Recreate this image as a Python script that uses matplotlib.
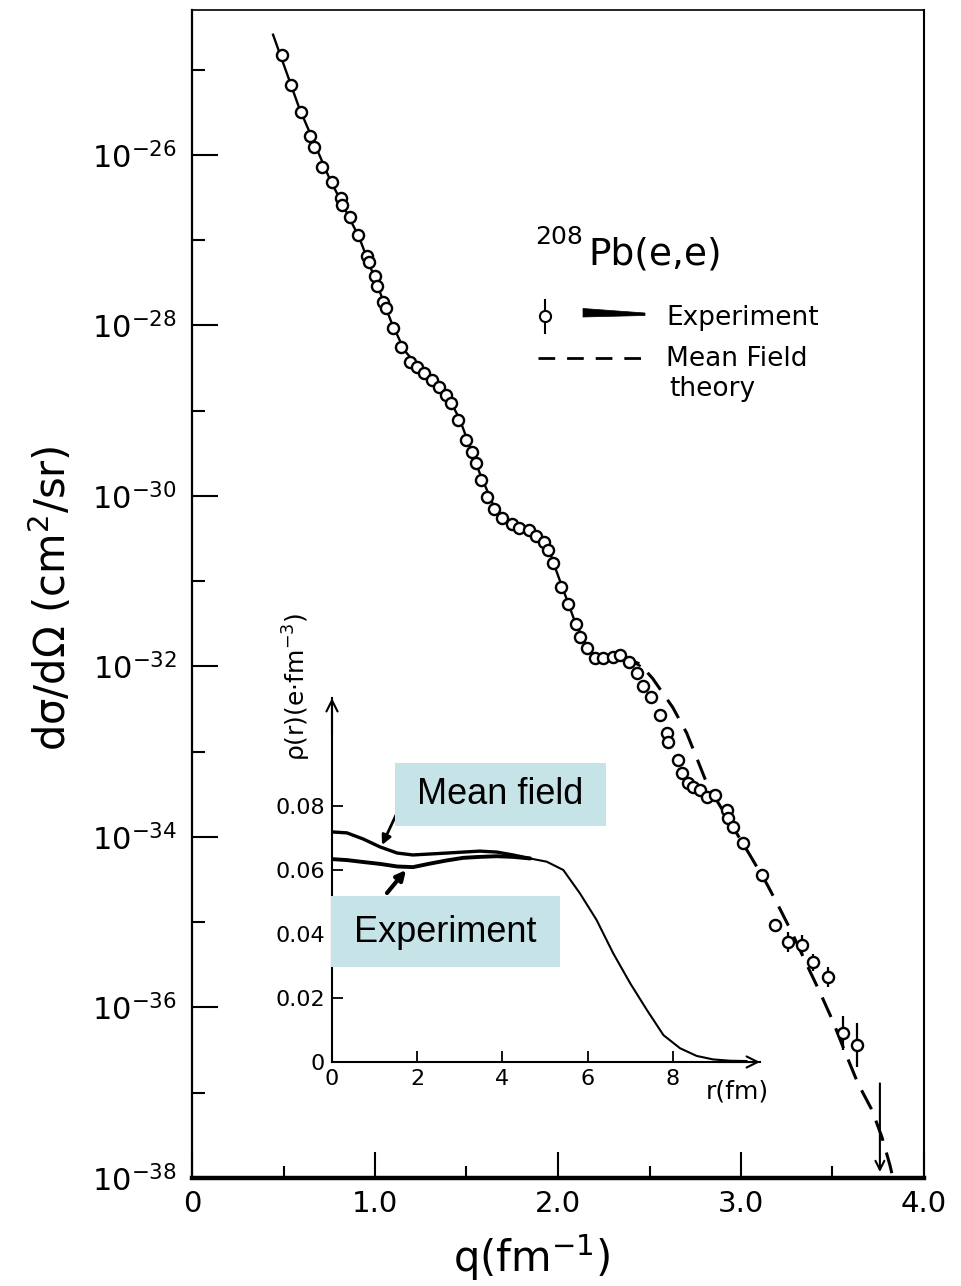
import numpy as np
import matplotlib
matplotlib.use("Agg")
import matplotlib.pyplot as plt
from matplotlib.patches import Rectangle, Polygon
from matplotlib.lines import Line2D

plt.rcParams['font.family'] = ['DejaVu Sans']
plt.rcParams['mathtext.fontset'] = 'dejavusans'

# ---------------- data: elastic cross section (log10 of dsigma/dOmega) ----------------
q_exp = [0.492, 0.542, 0.597, 0.646, 0.668, 0.711, 0.766, 0.815, 0.821, 0.865,
         0.908, 0.958, 0.969, 1.001, 1.012, 1.045, 1.062, 1.100, 1.144, 1.193,
         1.231, 1.270, 1.313, 1.352, 1.390, 1.417, 1.456, 1.499, 1.532, 1.554,
         1.581, 1.614, 1.653, 1.696, 1.746, 1.789, 1.839, 1.882, 1.921, 1.948,
         1.970, 2.019, 2.057, 2.101, 2.118, 2.156, 2.200, 2.244, 2.298, 2.337,
         2.386, 2.430, 2.462, 2.506, 2.555, 2.594, 2.599, 2.654, 2.676, 2.709,
         2.736, 2.774, 2.813, 2.856, 2.922, 2.927, 2.955, 3.010, 3.114, 3.185,
         3.256, 3.332, 3.393, 3.475, 3.557, 3.633]
log_exp = [-24.83, -25.18, -25.50, -25.78, -25.91, -26.14, -26.32, -26.50, -26.59, -26.73,
           -26.94, -27.19, -27.26, -27.42, -27.54, -27.72, -27.80, -28.03, -28.25, -28.43,
           -28.49, -28.56, -28.64, -28.72, -28.82, -28.91, -29.11, -29.34, -29.48, -29.61,
           -29.81, -30.01, -30.15, -30.26, -30.33, -30.38, -30.40, -30.47, -30.54, -30.63,
           -30.79, -31.07, -31.27, -31.50, -31.65, -31.78, -31.90, -31.90, -31.89, -31.87,
           -31.95, -32.08, -32.23, -32.36, -32.57, -32.78, -32.89, -33.10, -33.25, -33.37,
           -33.41, -33.45, -33.53, -33.51, -33.68, -33.78, -33.88, -34.07, -34.45, -35.03,
           -35.23, -35.27, -35.47, -35.64, -36.30, -36.44]

# points carrying error bars (half-width in decades)
q_eb = [3.114, 3.256, 3.332, 3.393, 3.475, 3.557, 3.633]
log_eb = [-34.45, -35.23, -35.27, -35.47, -35.64, -36.30, -36.44]
dec_eb = [0.08, 0.12, 0.12, 0.10, 0.12, 0.20, 0.26]

# upper limit
q_ul = 3.759
log_ul_top = -36.89
log_ul_bot = -37.93

# experimental fit (solid)
q_fit = [0.443, 0.586, 0.750, 0.914, 1.089, 1.160, 1.242, 1.379, 1.461, 1.570,
         1.653, 1.746, 1.844, 1.937, 1.986, 2.090, 2.172, 2.254, 2.337, 2.446]
log_fit = [-24.59, -25.45, -26.27, -26.97, -27.96, -28.29, -28.50, -28.76, -29.09, -29.72,
           -30.14, -30.31, -30.40, -30.54, -30.85, -31.46, -31.83, -31.91, -31.87, -31.99]

# mean field theory (dashed)
q_th = [2.337, 2.446, 2.517, 2.627, 2.703, 2.763, 2.813, 2.884, 2.966, 3.048,
        3.141, 3.212, 3.278, 3.360, 3.431, 3.502, 3.568, 3.639, 3.715, 3.770,
        3.814, 3.830]
log_th = [-31.87, -31.97, -32.14, -32.48, -32.78, -33.10, -33.37, -33.63, -33.92, -34.21,
          -34.55, -34.84, -35.12, -35.50, -35.82, -36.16, -36.52, -36.89, -37.20, -37.52,
          -37.85, -38.00]

# axis ticks
x_major = [0, 1, 2, 3, 4]
x_major_labels = ['0', '1.0', '2.0', '3.0', '4.0']
x_minor = [0.5, 1.5, 2.5, 3.5]
y_major_exp = [-38, -36, -34, -32, -30, -28, -26]
y_minor_exp = [-37, -35, -33, -31, -29, -27, -25]

# ---------------- data: inset charge density ----------------
r_core = [0.0, 0.35, 0.73, 1.13, 1.53, 1.90, 2.30, 2.70, 3.08, 3.47, 3.87, 4.25, 4.65]
rho_mf = [0.0719, 0.0716, 0.0697, 0.0672, 0.0653, 0.0647, 0.0650, 0.0653, 0.0656, 0.0659,
          0.0656, 0.0647, 0.0636]
rho_ex = [0.0634, 0.0631, 0.0625, 0.0619, 0.0611, 0.0609, 0.0620, 0.0630, 0.0638, 0.0641,
          0.0643, 0.0641, 0.0636]
r_tail = [4.65, 5.04, 5.43, 5.82, 6.21, 6.60, 7.00, 7.39, 7.78, 8.17, 8.56, 8.95, 9.34, 9.73]
rho_tail = [0.0636, 0.0626, 0.0600, 0.0527, 0.0444, 0.0340, 0.0246, 0.0163, 0.0084, 0.0043,
            0.0019, 0.0008, 0.0004, 0.0003]
r_ticks = [0, 2, 4, 6, 8]
rho_ticks = [0, 0.02, 0.04, 0.06, 0.08]
rho_tick_labels = ['0', '0.02', '0.04', '0.06', '0.08']

# ---------------- figure ----------------
W, H = 962, 1286
fig = plt.figure(figsize=(W / 100, H / 100), dpi=100)


def ff(px, py):
    return (px / W, 1 - py / H)


ax = fig.add_axes([192 / W, 1 - 1178 / H, (924 - 192) / W, (1178 - 10) / H])
ax.set_yscale('log')
ax.set_xlim(0, 4)
ax.set_ylim(1e-38, 10 ** (-24.3))

ax.set_xticks(x_major, labels=x_major_labels)
ax.set_xticks(x_minor, minor=True)
ax.set_yticks(10.0 ** np.array(y_major_exp, dtype=float),
              labels=[f"$10^{{{e}}}$" for e in y_major_exp])
ax.set_yticks(10.0 ** np.array(y_minor_exp, dtype=float), minor=True)
ax.yaxis.set_minor_formatter(matplotlib.ticker.NullFormatter())

ax.tick_params(axis='both', which='both', direction='in', width=1.5, color='k',
               top=False, right=False)
ax.tick_params(axis='y', which='major', length=19, labelsize=22, pad=11)
ax.tick_params(axis='y', which='minor', length=9)
ax.tick_params(axis='x', which='major', length=19, labelsize=21, pad=9)
ax.tick_params(axis='x', which='minor', length=9)

ax.spines['left'].set_linewidth(1.6)
ax.spines['bottom'].set_linewidth(3.2)
ax.spines['right'].set_linewidth(1.5)
ax.spines['top'].set_linewidth(1.2)

sig = lambda v: 10.0 ** np.asarray(v, dtype=float)

ax.plot(q_fit, sig(log_fit), color='k', lw=1.7, zorder=2)
ax.plot(q_th, sig(log_th), color='k', lw=2.2, dashes=(7, 4), zorder=2)

yc = sig(log_eb)
lo = yc - yc * 10.0 ** (-np.array(dec_eb))
hi = yc * 10.0 ** np.array(dec_eb) - yc
ax.errorbar(q_eb, yc, yerr=[lo, hi], fmt='none', ecolor='k', elinewidth=1.6,
            capsize=0, zorder=3)
ax.plot(q_exp, sig(log_exp), ls='none', marker='o', ms=8, mfc='white', mec='k',
        mew=1.7, zorder=4)

ax.annotate('', xy=(q_ul, 10 ** log_ul_bot), xytext=(q_ul, 10 ** log_ul_top),
            arrowprops=dict(arrowstyle='->', lw=1.5, color='k', shrinkA=0, shrinkB=0,
                            mutation_scale=16))

# ---------------- legend (hand drawn) ----------------
fig.text(*ff(535, 244), '208', fontsize=18, ha='left', va='baseline')
fig.text(*ff(588, 265), 'Pb(e,e)', fontsize=27, ha='left', va='baseline')
fig.add_artist(Line2D([545 / W, 545 / W], [1 - 300 / H, 1 - 333 / H], color='k', lw=1.5,
                      transform=fig.transFigure))
fig.add_artist(Line2D([545 / W], [1 - 316 / H], marker='o', ms=8, mfc='white', mec='k',
                      mew=1.5, transform=fig.transFigure))
fig.add_artist(Polygon([ff(583, 308.5), ff(645, 313), ff(645, 315.5), ff(583, 317)],
                       closed=True, fc='k', ec='k', lw=0.5, transform=fig.transFigure))
fig.add_artist(Line2D([538 / W, 646 / W], [1 - 358 / H, 1 - 358 / H], color='k', lw=2,
                      dashes=(6, 4.3), transform=fig.transFigure))
fig.text(*ff(666, 325), 'Experiment', fontsize=19, ha='left', va='baseline')
fig.text(*ff(666, 366), 'Mean Field', fontsize=19, ha='left', va='baseline')
fig.text(*ff(669, 396), 'theory', fontsize=19, ha='left', va='baseline')

# axis labels
fig.text(*ff(51, 598), 'dσ/dΩ (cm$^2$/sr)', rotation=90, fontsize=30,
         ha='center', va='center')
fig.text(*ff(532, 1258), 'q(fm$^{-1}$)', fontsize=30, ha='center', va='center')

# ---------------- inset ----------------
axi = fig.add_axes([332 / W, 1 - 1062 / H, (760 - 332) / W, (1062 - 698) / H],
                   facecolor='none')
axi.set_xlim(0, 428 / 42.6)
axi.set_ylim(0, 364 / 3200)
for s in ('top', 'right'):
    axi.spines[s].set_visible(False)
axi.spines['left'].set_linewidth(1.5)
axi.spines['bottom'].set_linewidth(1.5)
axi.set_xticks(r_ticks, labels=[str(t) for t in r_ticks])
axi.set_yticks(rho_ticks, labels=rho_tick_labels)
axi.tick_params(direction='in', length=8, width=1.3, labelsize=16, pad=5)
axi.annotate('', xy=(1, 0), xytext=(0.9, 0), xycoords='axes fraction',
             arrowprops=dict(arrowstyle='->', lw=1.5, color='k', shrinkA=0, shrinkB=0,
                             mutation_scale=20))
axi.annotate('', xy=(0, 1), xytext=(0, 0.9), xycoords='axes fraction',
             arrowprops=dict(arrowstyle='->', lw=1.5, color='k', shrinkA=0, shrinkB=0,
                             mutation_scale=20))

axi.plot(r_core, rho_mf, color='k', lw=2.4, solid_capstyle='round')
axi.plot(r_core, rho_ex, color='k', lw=2.8, solid_capstyle='round')
axi.plot(r_tail, rho_tail, color='k', lw=1.5, solid_joinstyle='round')

fig.text(*ff(297, 687), 'ρ(r)(e·fm$^{-3}$)', rotation=90, fontsize=18,
         ha='center', va='center')
fig.text(*ff(737, 1092), 'r(fm)', fontsize=18, ha='center', va='center')

# annotation boxes
box_col = '#c6e4e8'
fig.add_artist(Rectangle(ff(395, 826), 211 / W, 63 / H, transform=fig.transFigure,
                         fc=box_col, ec='none', zorder=5))
fig.text(*ff(500, 795), 'Mean field', fontsize=26, family=['Liberation Sans'],
         ha='center', va='center', zorder=6)
fig.add_artist(Rectangle(ff(331, 967), 229 / W, 71 / H, transform=fig.transFigure,
                         fc=box_col, ec='none', zorder=5))
fig.text(*ff(445, 933), 'Experiment', fontsize=26, family=['Liberation Sans'],
         ha='center', va='center', zorder=6)

axi.annotate('', xy=((382 - 332) / 42.6, (1062 - 845) / 3200), xycoords='data',
             xytext=(396, H - 815), textcoords='figure pixels',
             arrowprops=dict(arrowstyle='-|>', lw=2, color='k', shrinkA=0, shrinkB=0,
                             mutation_scale=14))
axi.annotate('', xy=((406 - 332) / 42.6, (1062 - 870) / 3200), xycoords='data',
             xytext=(387, H - 893), textcoords='figure pixels',
             arrowprops=dict(arrowstyle='-|>', lw=3, color='k', shrinkA=0, shrinkB=0,
                             mutation_scale=14))

fig.savefig('out.png', dpi=100)
